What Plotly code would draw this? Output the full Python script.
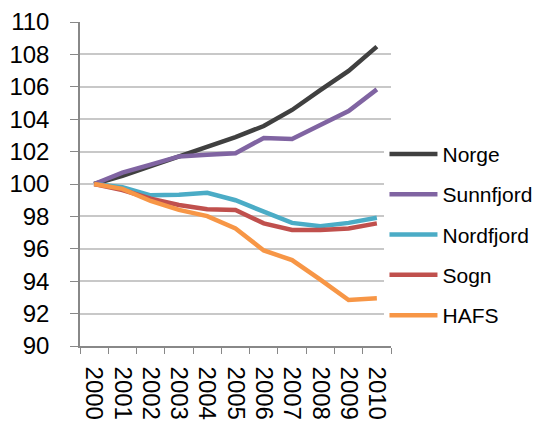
import plotly.graph_objects as go

years = [str(y) for y in range(2000, 2011)]

norge = [100, 100.5, 101.1, 101.7, 102.28, 102.9, 103.58, 104.57, 105.8, 106.98, 108.48]
sunnfjord = [100, 100.7, 101.2, 101.7, 101.8, 101.9, 102.84, 102.78, 103.64, 104.5, 105.84]
nordfjord = [100, 99.8, 99.3, 99.34, 99.46, 99.0, 98.29, 97.6, 97.4, 97.6, 97.92]
sogn = [100, 99.63, 99.1, 98.7, 98.44, 98.4, 97.57, 97.16, 97.16, 97.26, 97.57]
hafs = [100, 99.7, 98.95, 98.4, 98.02, 97.26, 95.9, 95.3, 94.1, 92.84, 92.94]

series = [
    ("Norge", norge, "#404040"),
    ("Sunnfjord", sunnfjord, "#8064A2"),
    ("Nordfjord", nordfjord, "#4BACC6"),
    ("Sogn", sogn, "#C0504D"),
    ("HAFS", hafs, "#F79646"),
]

fig = go.Figure()
for name, vals, col in series:
    fig.add_trace(go.Scatter(x=years, y=vals, name=name, mode="lines",
                             legendgroup=name,
                             line=dict(color=col, width=4.5)))

# page body has an 8px margin, so offsets are reduced by 8
fig.update_layout(
    width=542, height=428,
    margin=dict(l=72, r=159, t=14, b=90, autoexpand=False),
    plot_bgcolor="white", paper_bgcolor="white",
    font=dict(family="Liberation Sans, Arial, sans-serif", color="black"),
    legend=dict(x=0.979, y=0.655, xanchor="left", yanchor="top",
                font=dict(size=21), tracegroupgap=10,
                traceorder="grouped", itemwidth=48),
)
fig.update_xaxes(type="category", tickangle=90, tickson="boundaries",
                 tickmode="array", tickvals=years, ticktext=years,
                 range=[-0.5, 10.5], automargin=False, ticklabelstandoff=14,
                 showline=True, linecolor="#888888", linewidth=1.5,
                 ticks="outside", ticklen=6, tickcolor="#888888",
                 showgrid=False, tickfont=dict(size=24))
fig.update_yaxes(range=[90, 110], dtick=2, showline=True, linecolor="#888888",
                 linewidth=1.5, ticks="outside", ticklen=8, tickcolor="#888888",
                 gridcolor="#c8c8c8", gridwidth=1.5, tickfont=dict(size=24),
                 zeroline=False, automargin=False, ticklabelstandoff=16)

fig.write_html("out.html")
